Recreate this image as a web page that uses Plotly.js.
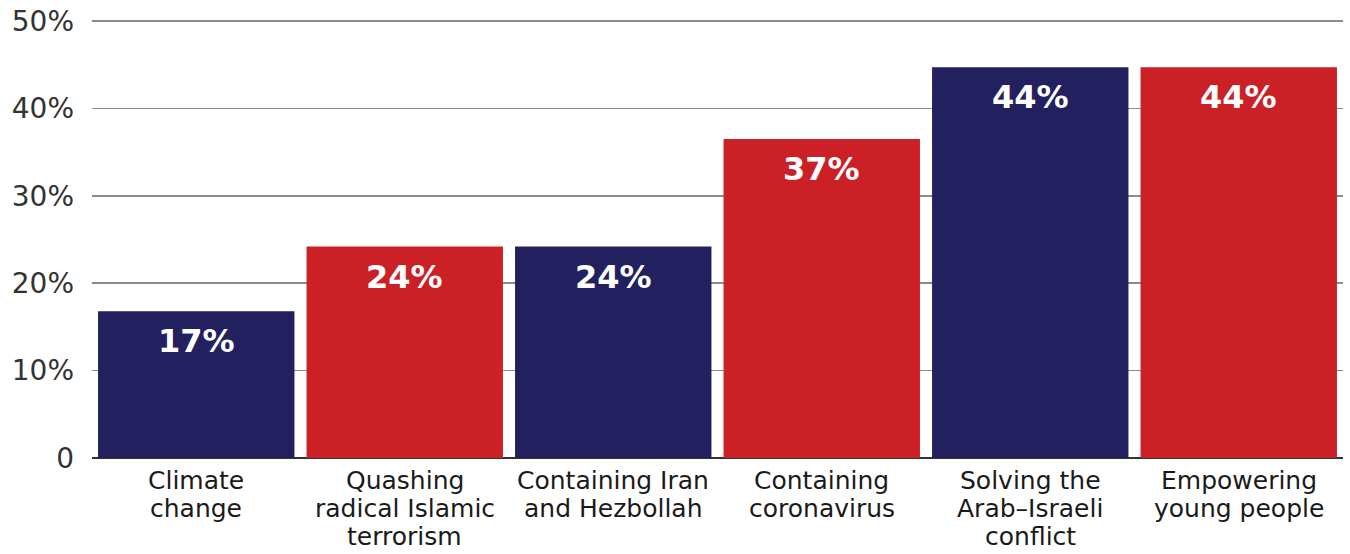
<!DOCTYPE html>
<html>
<head>
<meta charset="utf-8">
<script src="https://cdn.plot.ly/plotly-3.0.1.min.js"></script>
<style>html,body{margin:0;padding:0;background:#fff;}#chart{width:1350px;height:554px;}</style>
</head>
<body>
<div id="chart"></div>
<script>
const categories = ["Climate<br>change", "Quashing<br>radical Islamic<br>terrorism", "Containing Iran<br>and Hezbollah", "Containing<br>coronavirus", "Solving the<br>Arab–Israeli<br>conflict", "Empowering<br>young people"];
const values = [16.8, 24.2, 24.2, 36.5, 44.7, 44.7];
const valueLabels = ["17%", "24%", "24%", "37%", "44%", "44%"];
const barColors = ["#232060", "#CB2026", "#232060", "#CB2026", "#232060", "#CB2026"];
const yTickVals = [0, 10, 20, 30, 40, 50];
const yTickText = ["0", "10%", "20%", "30%", "40%", "50%"];

const FONT = "DejaVu Sans, Liberation Sans, sans-serif";

const annotations = [];
categories.forEach((cat, i) => {
  annotations.push({
    x: cat, y: values[i], xref: 'x', yref: 'y',
    text: valueLabels[i], showarrow: false,
    yanchor: 'middle', xanchor: 'center', yshift: -30,
    font: {family: FONT, size: 32, color: '#ffffff', weight: 'bold'}
  });
  cat.split('<br>').forEach((line, j) => {
    annotations.push({
      x: cat, y: 0, xref: 'x', yref: 'y',
      text: line, showarrow: false,
      yanchor: 'middle', xanchor: 'center', yshift: -(22 + 28 * j),
      font: {family: FONT, size: 25, color: '#1a1a1a'}
    });
  });
});

const data = [{
  type: 'bar',
  x: categories,
  y: values,
  marker: {color: barColors, line: {width: 0}},
  hoverinfo: 'skip'
}];

const layout = {
  width: 1350, height: 554,
  margin: {l: 92, r: 7, t: 18, b: 96},
  paper_bgcolor: '#ffffff', plot_bgcolor: '#ffffff',
  showlegend: false,
  bargap: 0.058,
  xaxis: {
    showticklabels: false, showgrid: false, zeroline: false, showline: false, ticks: ''
  },
  yaxis: {
    range: [0, 50.35],
    tickvals: yTickVals, ticktext: yTickText,
    showgrid: true, gridcolor: '#8c8c8c', gridwidth: 1.5,
    zeroline: true, zerolinecolor: '#333333', zerolinewidth: 1.5,
    showline: false, ticks: '', ticklabelstandoff: 17,
    tickfont: {family: FONT, size: 28, color: '#333333'}
  },
  annotations: annotations
};

Plotly.newPlot('chart', data, layout, {displayModeBar: false, staticPlot: true});
</script>
</body>
</html>
